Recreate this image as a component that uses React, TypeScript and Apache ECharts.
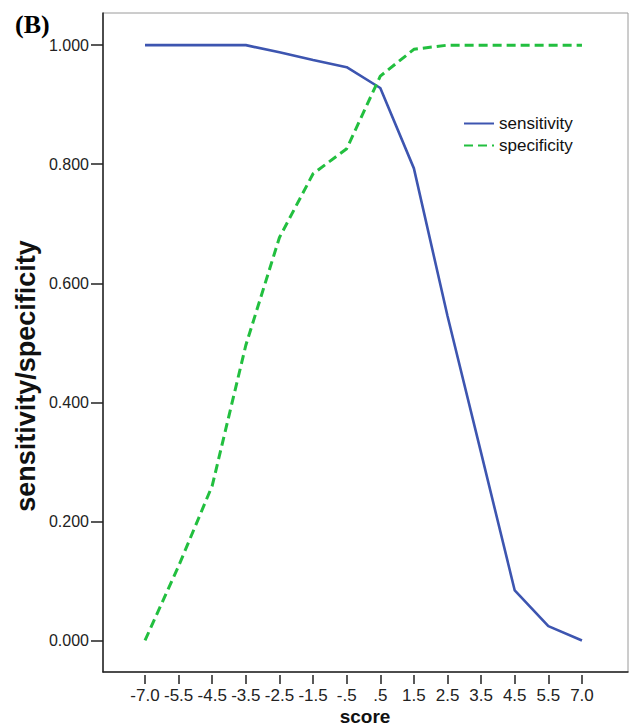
import React, { useEffect, useRef } from 'react';
import * as echarts from 'echarts';

const categories = ['-7.0', '-5.5', '-4.5', '-3.5', '-2.5', '-1.5', '-.5', '.5', '1.5', '2.5', '3.5', '4.5', '5.5', '7.0'];
const sensitivity = [1.0, 1.0, 1.0, 1.0, 0.988, 0.975, 0.963, 0.928, 0.793, 0.545, 0.315, 0.084, 0.024, 0.0];
const specificity = [0.0, 0.125, 0.26, 0.496, 0.677, 0.784, 0.826, 0.948, 0.993, 1.0, 1.0, 1.0, 1.0, 1.0];
const yTicks = [0, 0.2, 0.4, 0.6, 0.8, 1.0];

export default function App() {
  const ref = useRef<HTMLDivElement>(null);
  useEffect(() => {
    const chart = echarts.init(ref.current as HTMLDivElement, null, { renderer: 'svg' });
    const idx = categories.map((_, i) => i);
    const xMin = -1.25;
    const xMax = 14.37;
    const font = '"Liberation Sans", Arial, sans-serif';
    const dark = '#222';
    chart.setOption({
      animation: false,
      backgroundColor: '#ffffff',
      grid: {
        left: 103,
        top: 13,
        width: 525,
        height: 659,
        show: true,
        borderColor: '#9a9a9a',
        borderWidth: 1,
        containLabel: false,
        outerBoundsMode: 'none',
      },
      legend: {
        orient: 'vertical',
        left: 463,
        top: 115,
        padding: 0,
        itemWidth: 30,
        itemHeight: 14,
        itemGap: 5,
        itemStyle: { opacity: 0 },
        data: ['sensitivity', 'specificity'],
        textStyle: { fontSize: 17, color: '#111', fontFamily: font, lineHeight: 17 },
      },
      xAxis: [
        {
          type: 'value',
          min: xMin,
          max: xMax,
          axisLine: { show: true, onZero: false, lineStyle: { color: dark, width: 1.5 } },
          axisTick: { show: false },
          axisLabel: { show: false },
          splitLine: { show: false },
        },
        {
          type: 'value',
          position: 'bottom',
          offset: 3,
          min: xMin,
          max: xMax,
          axisLine: { show: false, onZero: false },
          axisTick: { show: true, length: 9, customValues: idx, lineStyle: { color: dark, width: 1.5 } },
          axisLabel: {
            customValues: idx,
            formatter: (v: number) => categories[Math.round(v)],
            fontSize: 17,
            lineHeight: 17,
            color: dark,
            margin: 12,
            fontFamily: font,
          },
          splitLine: { show: false },
        },
      ],
      yAxis: {
        type: 'value',
        min: -0.053,
        max: 1.054,
        axisLine: { show: true, onZero: false, lineStyle: { color: dark, width: 1.5 } },
        axisTick: { show: true, length: 12, customValues: yTicks, lineStyle: { color: dark, width: 1.5 } },
        axisLabel: {
          customValues: yTicks,
          formatter: (v: number) => v.toFixed(3),
          fontSize: 16,
          color: dark,
          margin: 14,
          fontFamily: font,
        },
        splitLine: { show: false },
      },
      graphic: [
        {
          type: 'text',
          x: 15,
          y: 24,
          style: {
            text: '(B)',
            font: 'bold 26px "Liberation Serif", "Times New Roman", serif',
            fill: '#000',
            verticalAlign: 'middle',
            align: 'left',
          },
        },
        {
          type: 'text',
          x: 26,
          y: 376,
          rotation: Math.PI / 2,
          style: {
            text: 'sensitivity/specificity',
            font: 'bold 27px "Liberation Sans", Arial, sans-serif',
            fill: '#111',
            align: 'center',
            verticalAlign: 'middle',
          },
        },
        {
          type: 'text',
          x: 365,
          y: 716,
          style: {
            text: 'score',
            font: 'bold 19px "Liberation Sans", Arial, sans-serif',
            fill: '#111',
            align: 'center',
            verticalAlign: 'middle',
          },
        },
      ],
      series: [
        {
          name: 'sensitivity',
          type: 'line',
          xAxisIndex: 0,
          data: sensitivity.map((v, i) => [i, v]),
          symbol: 'none',
          showSymbol: false,
          color: '#3d55b0',
          lineStyle: { color: '#3d55b0', width: 2.6 },
          itemStyle: { color: '#3d55b0' },
        },
        {
          name: 'specificity',
          type: 'line',
          xAxisIndex: 0,
          data: specificity.map((v, i) => [i, v]),
          symbol: 'none',
          showSymbol: false,
          color: '#22bf3f',
          lineStyle: { color: '#22bf3f', width: 3, type: [9, 5] },
          itemStyle: { color: '#22bf3f' },
        },
      ],
    });
    return () => chart.dispose();
  }, []);
  return (
    <div
      ref={ref}
      style={{ position: 'fixed', left: 0, top: 0, width: 630, height: 726, background: '#fff' }}
    />
  );
}
